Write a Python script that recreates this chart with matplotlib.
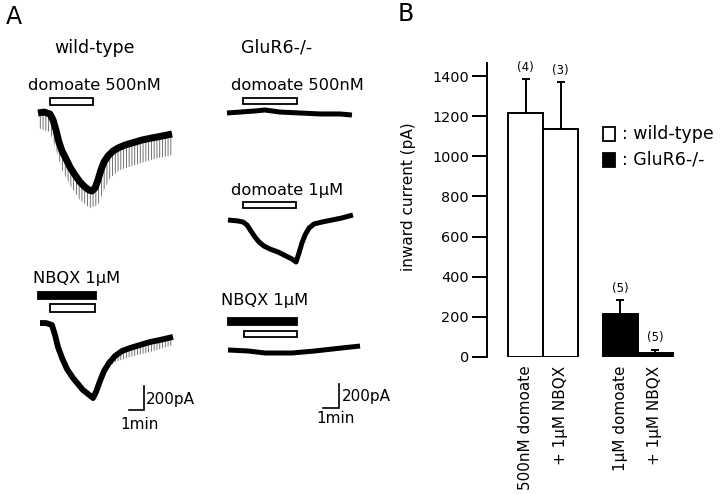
import matplotlib
matplotlib.use("Agg")
import matplotlib.pyplot as plt
from matplotlib.patches import Rectangle

plt.rcParams['font.family'] = ['DejaVu Sans']
plt.rcParams['hatch.linewidth'] = 0.6

# ---------------- data ----------------
# Panel A traces: time (min) and current (pA, inward negative)
wt_dom_t = [0, 0.39, 0.77, 0.97, 1.16, 1.35, 1.55, 1.81, 2.06, 2.39, 2.71, 3.03, 3.29, 3.48,
            3.68, 3.87, 4.06, 4.26, 4.52, 4.84, 5.16, 5.61, 6.06, 6.71, 7.35, 8.0, 8.65]
wt_dom_i = [0, 8, -8, -58, -142, -242, -317, -383, -450, -517, -575, -617, -642, -650,
            -625, -558, -475, -408, -358, -317, -292, -267, -250, -225, -208, -192, -175]
wt_dom_spike_t = [0, 0.77, 1.16, 1.55, 2.06, 2.71, 3.35, 3.87, 4.26, 4.65, 5.29, 6.26, 7.23, 8.65]
wt_dom_spike_i = [-125, -158, -308, -475, -600, -725, -792, -767, -642, -542, -475, -433, -392, -350]

wt_nbqx_t = [0, 0.39, 0.77, 0.97, 1.16, 1.42, 1.74, 2.13, 2.45, 2.77, 3.10, 3.42, 3.61, 3.87,
             4.13, 4.45, 4.84, 5.29, 5.81, 6.45, 7.10, 7.74, 8.58]
wt_nbqx_i = [8, 8, -8, -92, -192, -283, -375, -450, -500, -550, -583, -617, -567, -475,
             -392, -325, -267, -225, -200, -175, -150, -133, -108]
wt_nbqx_spike_t = [4.19, 4.84, 5.81, 7.10, 8.58]
wt_nbqx_spike_i = [-383, -317, -275, -233, -175]

ko_dom500_t = [0, 0.84, 1.81, 2.45, 3.42, 4.71, 6.0, 7.29, 8.06]
ko_dom500_i = [0, 8, 17, 25, 8, 0, -8, -8, -17]

ko_dom1_t = [0, 0.65, 0.97, 1.23, 1.48, 1.74, 2.0, 2.32, 2.71, 3.23, 3.74, 4.13, 4.39, 4.58,
             4.77, 4.97, 5.23, 5.55, 6.06, 6.71, 7.35, 8.06]
ko_dom1_i = [0, -8, -17, -42, -92, -142, -183, -217, -242, -267, -300, -325, -350, -275,
             -192, -125, -67, -33, -17, 0, 17, 42]

ko_nbqx_t = [0, 1.29, 2.39, 4.13, 5.61, 7.35, 8.52]
ko_nbqx_i = [0, -8, -25, -25, -8, 17, 33]

# drug application periods (min)
wt_dom_app = (0.77, 3.55)
wt_nbqx_app = (-0.13, 3.61)
wt_nbqx_dom_app = (0.65, 3.55)
ko_dom500_app = (1.03, 4.52)
ko_dom1_app = (0.97, 4.39)
ko_nbqx_app = (0.0, 4.45)
ko_nbqx_dom_app = (1.03, 4.45)

# Panel B bar chart
bar_labels = ['500nM domoate', '+ 1\u03bcM NBQX', '1\u03bcM domoate', '+ 1\u03bcM NBQX']
bar_values = [1216, 1136, 214, 18]
bar_errors = [170, 235, 70, 18]
bar_n = [4, 3, 5, 5]
bar_genotype = ['wild-type', 'wild-type', 'GluR6-/-', 'GluR6-/-']
y_ticks = [0, 200, 400, 600, 800, 1000, 1200, 1400]

# ---------------- layout ----------------
W, H = 720, 494
fig = plt.figure(figsize=(W / 100, H / 100), dpi=100)

PXMIN = 15.5   # pixels per minute
PXPA = 0.12    # pixels per pA


def ftext(x, y, s, **kw):
    fig.text(x / W, 1 - y / H, s, **kw)


def trace_axes(x0, y0):
    left, right, top, bottom = x0 - 25, x0 + 160, y0 - 50, y0 + 100
    ax = fig.add_axes([left / W, 1 - bottom / H, (right - left) / W, (bottom - top) / H])
    ax.set_xlim((left - x0) / PXMIN, (right - x0) / PXMIN)
    ax.set_ylim(-(bottom - y0) / PXPA, (y0 - top) / PXPA)
    ax.axis('off')
    return ax


def drug_bar(ax, period, off_lo, off_hi, filled):
    t0, t1 = period
    ax.add_patch(Rectangle((t0, off_lo / PXPA), t1 - t0, (off_hi - off_lo) / PXPA,
                           facecolor='black' if filled else 'white',
                           edgecolor='black', lw=1.3, clip_on=False))


def scale_bar(ax, t_right, i_bottom):
    ax.plot([t_right - 1, t_right, t_right], [i_bottom, i_bottom, i_bottom + 200],
            color='black', lw=1.2, solid_joinstyle='miter', clip_on=False)


def spikes(ax, core_t, core_i, env_t, env_i):
    ax.fill(list(core_t) + list(env_t)[::-1], list(core_i) + list(env_i)[::-1],
            facecolor='none', edgecolor='0.35', hatch='||||||', lw=0)


# wild-type domoate 500nM
ax1 = trace_axes(38, 113)
spikes(ax1, wt_dom_t, wt_dom_i, wt_dom_spike_t, wt_dom_spike_i)
ax1.plot(wt_dom_t, wt_dom_i, color='black', lw=5.0, solid_capstyle='butt')
drug_bar(ax1, wt_dom_app, 8, 15, False)

# wild-type NBQX
ax2 = trace_axes(40, 324)
spikes(ax2, wt_nbqx_t[14:], wt_nbqx_i[14:], wt_nbqx_spike_t, wt_nbqx_spike_i)
ax2.plot(wt_nbqx_t, wt_nbqx_i, color='black', lw=4.2, solid_capstyle='butt')
drug_bar(ax2, wt_nbqx_app, 25, 32, True)
drug_bar(ax2, wt_nbqx_dom_app, 12, 20, False)
scale_bar(ax2, 6.71, -717)

# GluR6-/- domoate 500nM
ax3 = trace_axes(227, 113)
ax3.plot(ko_dom500_t, ko_dom500_i, color='black', lw=3.6, solid_capstyle='butt')
drug_bar(ax3, ko_dom500_app, 9, 15, False)

# GluR6-/- domoate 1uM
ax4 = trace_axes(228, 220)
ax4.plot(ko_dom1_t, ko_dom1_i, color='black', lw=3.6, solid_capstyle='butt')
drug_bar(ax4, ko_dom1_app, 12, 18, False)

# GluR6-/- NBQX
ax5 = trace_axes(228, 350)
ax5.plot(ko_nbqx_t, ko_nbqx_i, color='black', lw=3.6, solid_capstyle='butt')
drug_bar(ax5, ko_nbqx_app, 25, 32, True)
drug_bar(ax5, ko_nbqx_dom_app, 13, 19, False)
scale_bar(ax5, 7.16, -483)

# panel A texts
ftext(14, 17, 'A', fontsize=17, ha='center', va='center')
ftext(95, 48, 'wild-type', fontsize=12.5, ha='center', va='center')
ftext(277, 48, 'GluR6-/-', fontsize=12.5, ha='center', va='center')
ftext(28, 86, 'domoate 500nM', fontsize=11.7, ha='left', va='center')
ftext(33, 279, 'NBQX 1\u03bcM', fontsize=11.7, ha='left', va='center')
ftext(231, 86, 'domoate 500nM', fontsize=11.7, ha='left', va='center')
ftext(231, 190, 'domoate 1\u03bcM', fontsize=11.7, ha='left', va='center')
ftext(221, 300, 'NBQX 1\u03bcM', fontsize=11.7, ha='left', va='center')
ftext(146, 399, '200pA', fontsize=11, ha='left', va='center')
ftext(139, 424, '1min', fontsize=11, ha='center', va='center')
ftext(342, 396, '200pA', fontsize=11, ha='left', va='center')
ftext(336, 418, '1min', fontsize=11, ha='center', va='center')

# ---------------- panel B ----------------
axB = fig.add_axes([487 / W, 1 - 357 / H, (690 - 487) / W, (357 - 63) / H])
xpos = [1.1, 2.1, 3.8, 4.8]
colors = {'wild-type': 'white', 'GluR6-/-': 'black'}
axB.bar(xpos, bar_values, width=1.0, color=[colors[g] for g in bar_genotype],
        edgecolor='black', linewidth=1.4, zorder=2)
axB.errorbar(xpos, bar_values, yerr=[[0] * len(bar_errors), bar_errors], fmt='none',
             ecolor='black', elinewidth=1.4, capsize=3.0, capthick=1.4, zorder=3)
for x, v, e, n in zip(xpos, bar_values, bar_errors, bar_n):
    axB.annotate(f'({n})', (x, v + e), xytext=(0, 8.5), textcoords='offset points',
                 ha='center', va='center', fontsize=8.5)
axB.set_xlim(0, (690 - 487) / 35)
axB.set_ylim(0, 1465)
axB.set_yticks(y_ticks)
axB.tick_params(axis='y', length=11, width=1.4, pad=2, labelsize=10.4)
axB.set_xticks(xpos, bar_labels, rotation=90, fontsize=11)
axB.tick_params(axis='x', length=0, pad=6)
for s in ['top', 'right', 'bottom']:
    axB.spines[s].set_visible(False)
axB.spines['left'].set_linewidth(1.4)
axB.set_ylabel('inward current (pA)', fontsize=11)
axB.yaxis.set_label_coords((409 - 487) / 203, (357 - 197) / 294)
axB.yaxis.label.set_verticalalignment('center')
axB.patch.set_alpha(0)

# legend
for yy, g in [(127, 'wild-type'), (153, 'GluR6-/-')]:
    fig.patches.append(Rectangle((603 / W, 1 - (yy + 14) / H), 12 / W, 14 / H,
                                 transform=fig.transFigure, facecolor=colors[g],
                                 edgecolor='black', lw=1.3))
    ftext(622, yy + 7, ': ' + g, fontsize=12.5, ha='left', va='center')

ftext(406, 14, 'B', fontsize=17, ha='center', va='center')

fig.savefig('out.png', dpi=100)
